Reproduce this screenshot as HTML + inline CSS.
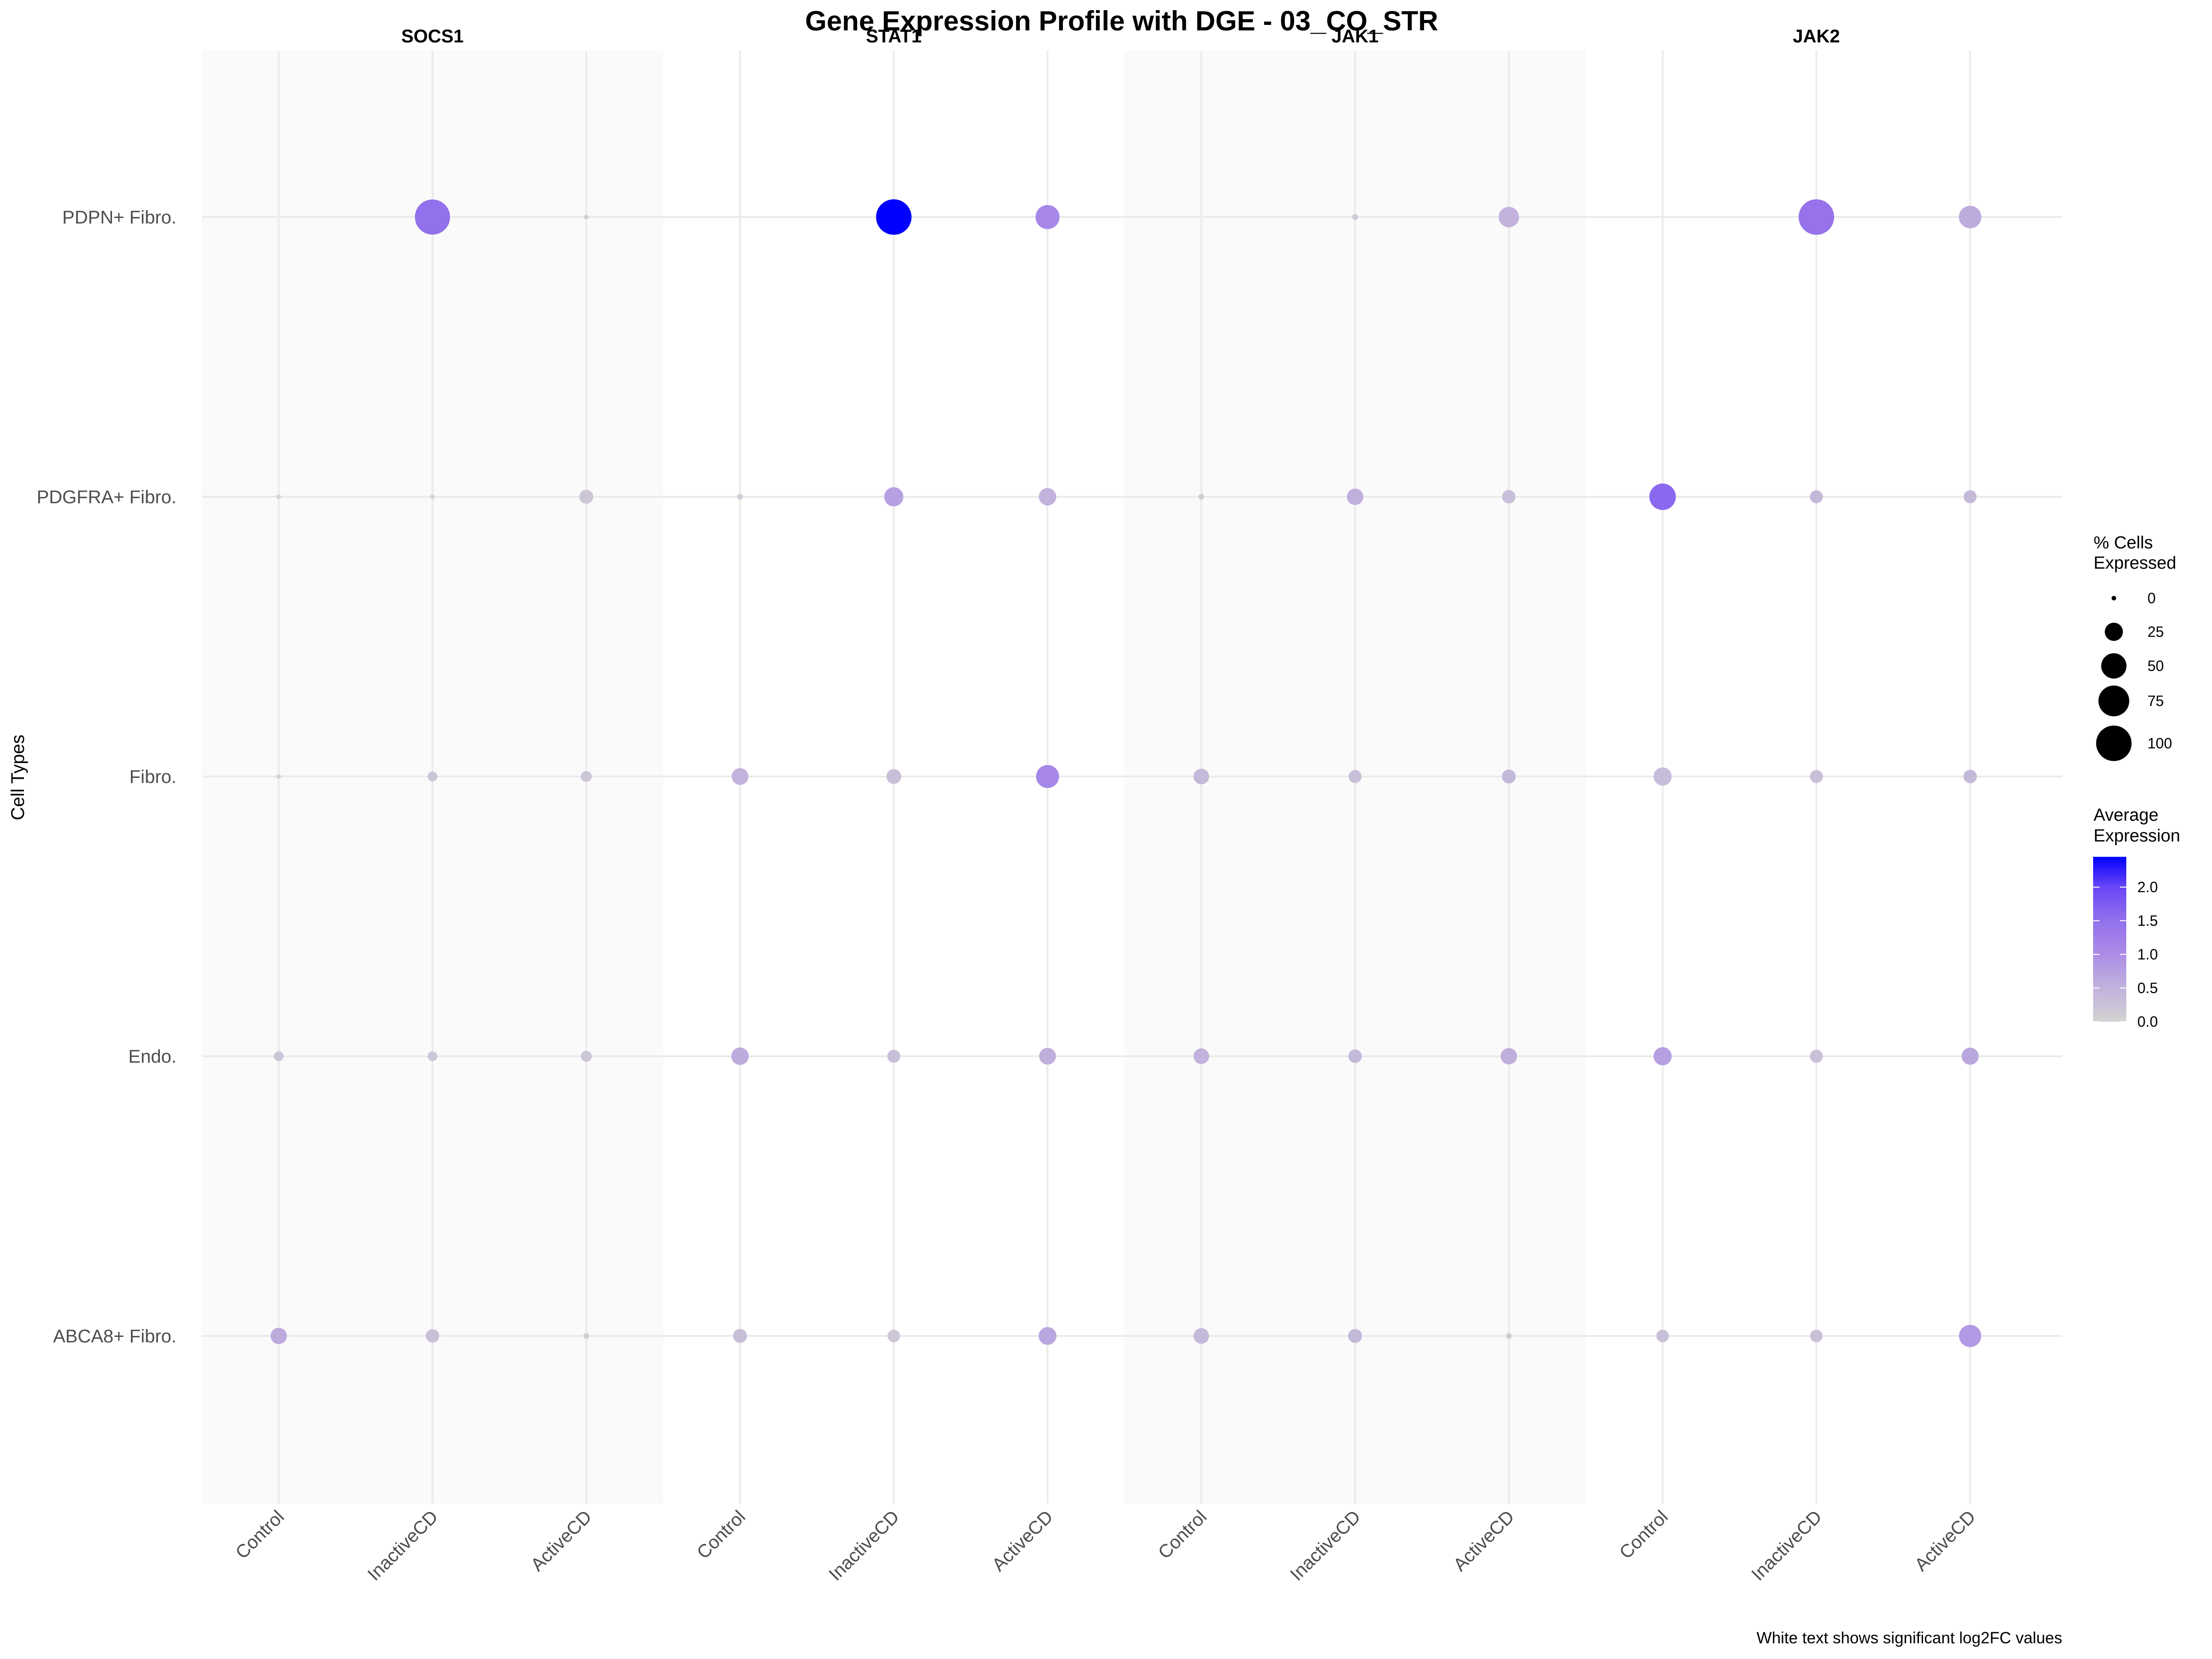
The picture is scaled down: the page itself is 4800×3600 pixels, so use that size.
<!DOCTYPE html>
<html><head><meta charset="utf-8"><style>
html,body{margin:0;padding:0;background:#fff}
svg{display:block;font-family:"Liberation Sans",sans-serif}
</style></head><body>
<svg id="chart" width="4800" height="3600" viewBox="0 0 4800 3600" xmlns="http://www.w3.org/2000/svg">
<rect width="4800" height="3600" fill="#fff"/>
<text x="2434" y="66" text-anchor="middle" font-size="60" font-weight="bold" fill="#000">Gene Expression Profile with DGE - 03_CO_STR</text>
<text transform="translate(52,1687) rotate(-90)" text-anchor="middle" font-size="40" fill="#000">Cell Types</text>
<text x="4475" y="3566" text-anchor="end" font-size="35" fill="#000">White text shows significant log2FC values</text>
<g id="panels"></g>
<g id="legend"></g>
</svg>
<script>
const genes = ["SOCS1","STAT1","JAK1","JAK2"];
const conditions = ["Control","InactiveCD","ActiveCD"];
const cellTypes = ["PDPN+ Fibro.","PDGFRA+ Fibro.","Fibro.","Endo.","ABCA8+ Fibro."];
// pct[gene][cellType][condition]; null = not drawn
const pctSOCS1 = [[null,98,0],[0,0,14],[0,6,8],[6,6,8],[20,13,1]];
const pctSTAT1 = [[null,100,45],[1,28,23],[21,16,41],[23,12,21],[14,11,24]];
const pctJAK1  = [[null,1,32],[1,20,13],[18,12,14],[18,13,20],[18,14,1]];
const pctJAK2  = [[null,100,39],[55,12,12],[25,12,13],[25,12,22],[11,11,38]];
const avgSOCS1 = [[0,1.5,0.1],[0,0,0.2],[0,0.2,0.2],[0.2,0.2,0.2],[0.6,0.3,0.1]];
const avgSTAT1 = [[0,2.45,1.1],[0.1,0.75,0.5],[0.5,0.3,1.1],[0.6,0.3,0.55],[0.3,0.2,0.65]];
const avgJAK1  = [[0,0.1,0.5],[0.1,0.55,0.3],[0.4,0.3,0.4],[0.5,0.4,0.55],[0.4,0.4,0.1]];
const avgJAK2  = [[0,1.45,0.6],[1.6,0.4,0.4],[0.35,0.3,0.4],[0.75,0.3,0.65],[0.3,0.3,0.85]];
const pctAll = [pctSOCS1,pctSTAT1,pctJAK1,pctJAK2];
const avgAll = [avgSOCS1,avgSTAT1,avgJAK1,avgJAK2];
const sizeBreaks = [0,25,50,75,100];
const colorBreaks = [0,0.5,1.0,1.5,2.0];
const colorMax = 2.45;

const NS="http://www.w3.org/2000/svg";
function mk(tag,attrs,parent){const e=document.createElementNS(NS,tag);for(const k in attrs)e.setAttribute(k,attrs[k]);parent.appendChild(e);return e;}
const plotTop=110, plotBot=3263, panelL=438, panelW=1001, gridR=4475;
function xPos(g,c){return panelL+g*panelW+panelW*(2*c+1)/6;}
function yPos(r){return 471+r*607;}
function rSize(p){return Math.sqrt(25+(1482-25)*p/100);}
const stops=[[0,[211,211,211]],[0.5,[194,178,220]],[1.0,[172,141,230]],[1.5,[147,112,236]],[2.0,[106,70,246]],[2.45,[0,0,255]]];
function col(v){v=Math.max(0,Math.min(colorMax,v));for(let i=1;i<stops.length;i++){if(v<=stops[i][0]){const a=stops[i-1],b=stops[i];const t=(v-a[0])/(b[0]-a[0]);const c=a[1].map((x,j)=>Math.round(x+(b[1][j]-x)*t));return `rgb(${c})`;}}return "rgb(0,0,255)";}
function yBar(v){return 2217-(v/0.5)*73;}

const P=document.getElementById('panels');
genes.forEach((g,gi)=>{
  const x0=panelL+gi*panelW;
  if(gi%2===0){const bg=mk('rect',{x:x0,y:plotTop,width:panelW,height:plotBot-plotTop,fill:'#fafafa'},P);
    
    }
  const st=mk('text',{x:x0+panelW/2,y:92,'text-anchor':'middle','font-size':40,'font-weight':'bold',fill:'#000'},P);
  st.textContent=g;
  
  
});
cellTypes.forEach((c,ri)=>{
  const l=mk('line',{x1:panelL,x2:gridR,y1:yPos(ri),y2:yPos(ri),stroke:'#ebebeb','stroke-width':4},P);
  
  
  const t=mk('text',{x:383,y:yPos(ri)+14,'text-anchor':'end','font-size':40,fill:'#4d4d4d'},P);
  t.textContent=c;
  
  
});
genes.forEach((g,gi)=>{conditions.forEach((cd,ci)=>{
  const x=xPos(gi,ci);
  const l=mk('line',{x1:x,x2:x,y1:plotTop,y2:plotBot,stroke:'#ebebeb','stroke-width':4},P);
  
  
  const t=mk('text',{transform:`translate(${x+14},${3294}) rotate(-45)`,'text-anchor':'end','font-size':40,fill:'#4d4d4d'},P);
  t.textContent=cd;
  
  
});});
genes.forEach((g,gi)=>{cellTypes.forEach((c,ri)=>{conditions.forEach((cd,ci)=>{
  const p=pctAll[gi][ri][ci]; if(p===null) return;
  const d=mk('circle',{cx:xPos(gi,ci),cy:yPos(ri),r:rSize(p),fill:col(avgAll[gi][ri][ci])},P);
  
  
});});});

const L=document.getElementById('legend');
const t1=mk('text',{x:4543,y:1190,'font-size':38,fill:'#000'},L);t1.textContent='% Cells';


const t1b=mk('text',{x:4543,y:1234,'font-size':38,fill:'#000'},L);t1b.textContent='Expressed';


const sizeYs=[1298,1371,1445,1521,1613];
sizeBreaks.forEach((b,i)=>{
  const c=mk('circle',{cx:4587,cy:sizeYs[i],r:rSize(b),fill:'#000'},L);
  
  
  const t=mk('text',{x:4660,y:sizeYs[i]+11,'font-size':32,fill:'#000'},L);t.textContent=b;
  
  
});
const t2=mk('text',{x:4543,y:1781,'font-size':38,fill:'#000'},L);t2.textContent='Average';


const t2b=mk('text',{x:4543,y:1826,'font-size':38,fill:'#000'},L);t2b.textContent='Expression';


const defs=mk('defs',{},L);
const gr=mk('linearGradient',{id:'cbar',x1:0,y1:1,x2:0,y2:0},defs);
stops.forEach(s=>mk('stop',{offset:(s[0]/colorMax),'stop-color':`rgb(${s[1]})`},gr));
const bar=mk('rect',{x:4542,y:yBar(colorMax),width:72,height:2217-yBar(colorMax),fill:'url(#cbar)'},L);


colorBreaks.forEach(b=>{
  const y=yBar(b);
  mk('line',{x1:4542,x2:4556,y1:y,y2:y,stroke:'#fff','stroke-width':2},L);
  mk('line',{x1:4600,x2:4614,y1:y,y2:y,stroke:'#fff','stroke-width':2},L);
  const t=mk('text',{x:4638,y:y+11,'font-size':32,fill:'#000'},L);t.textContent=b.toFixed(1);
  
  
});
</script>
</body></html>
